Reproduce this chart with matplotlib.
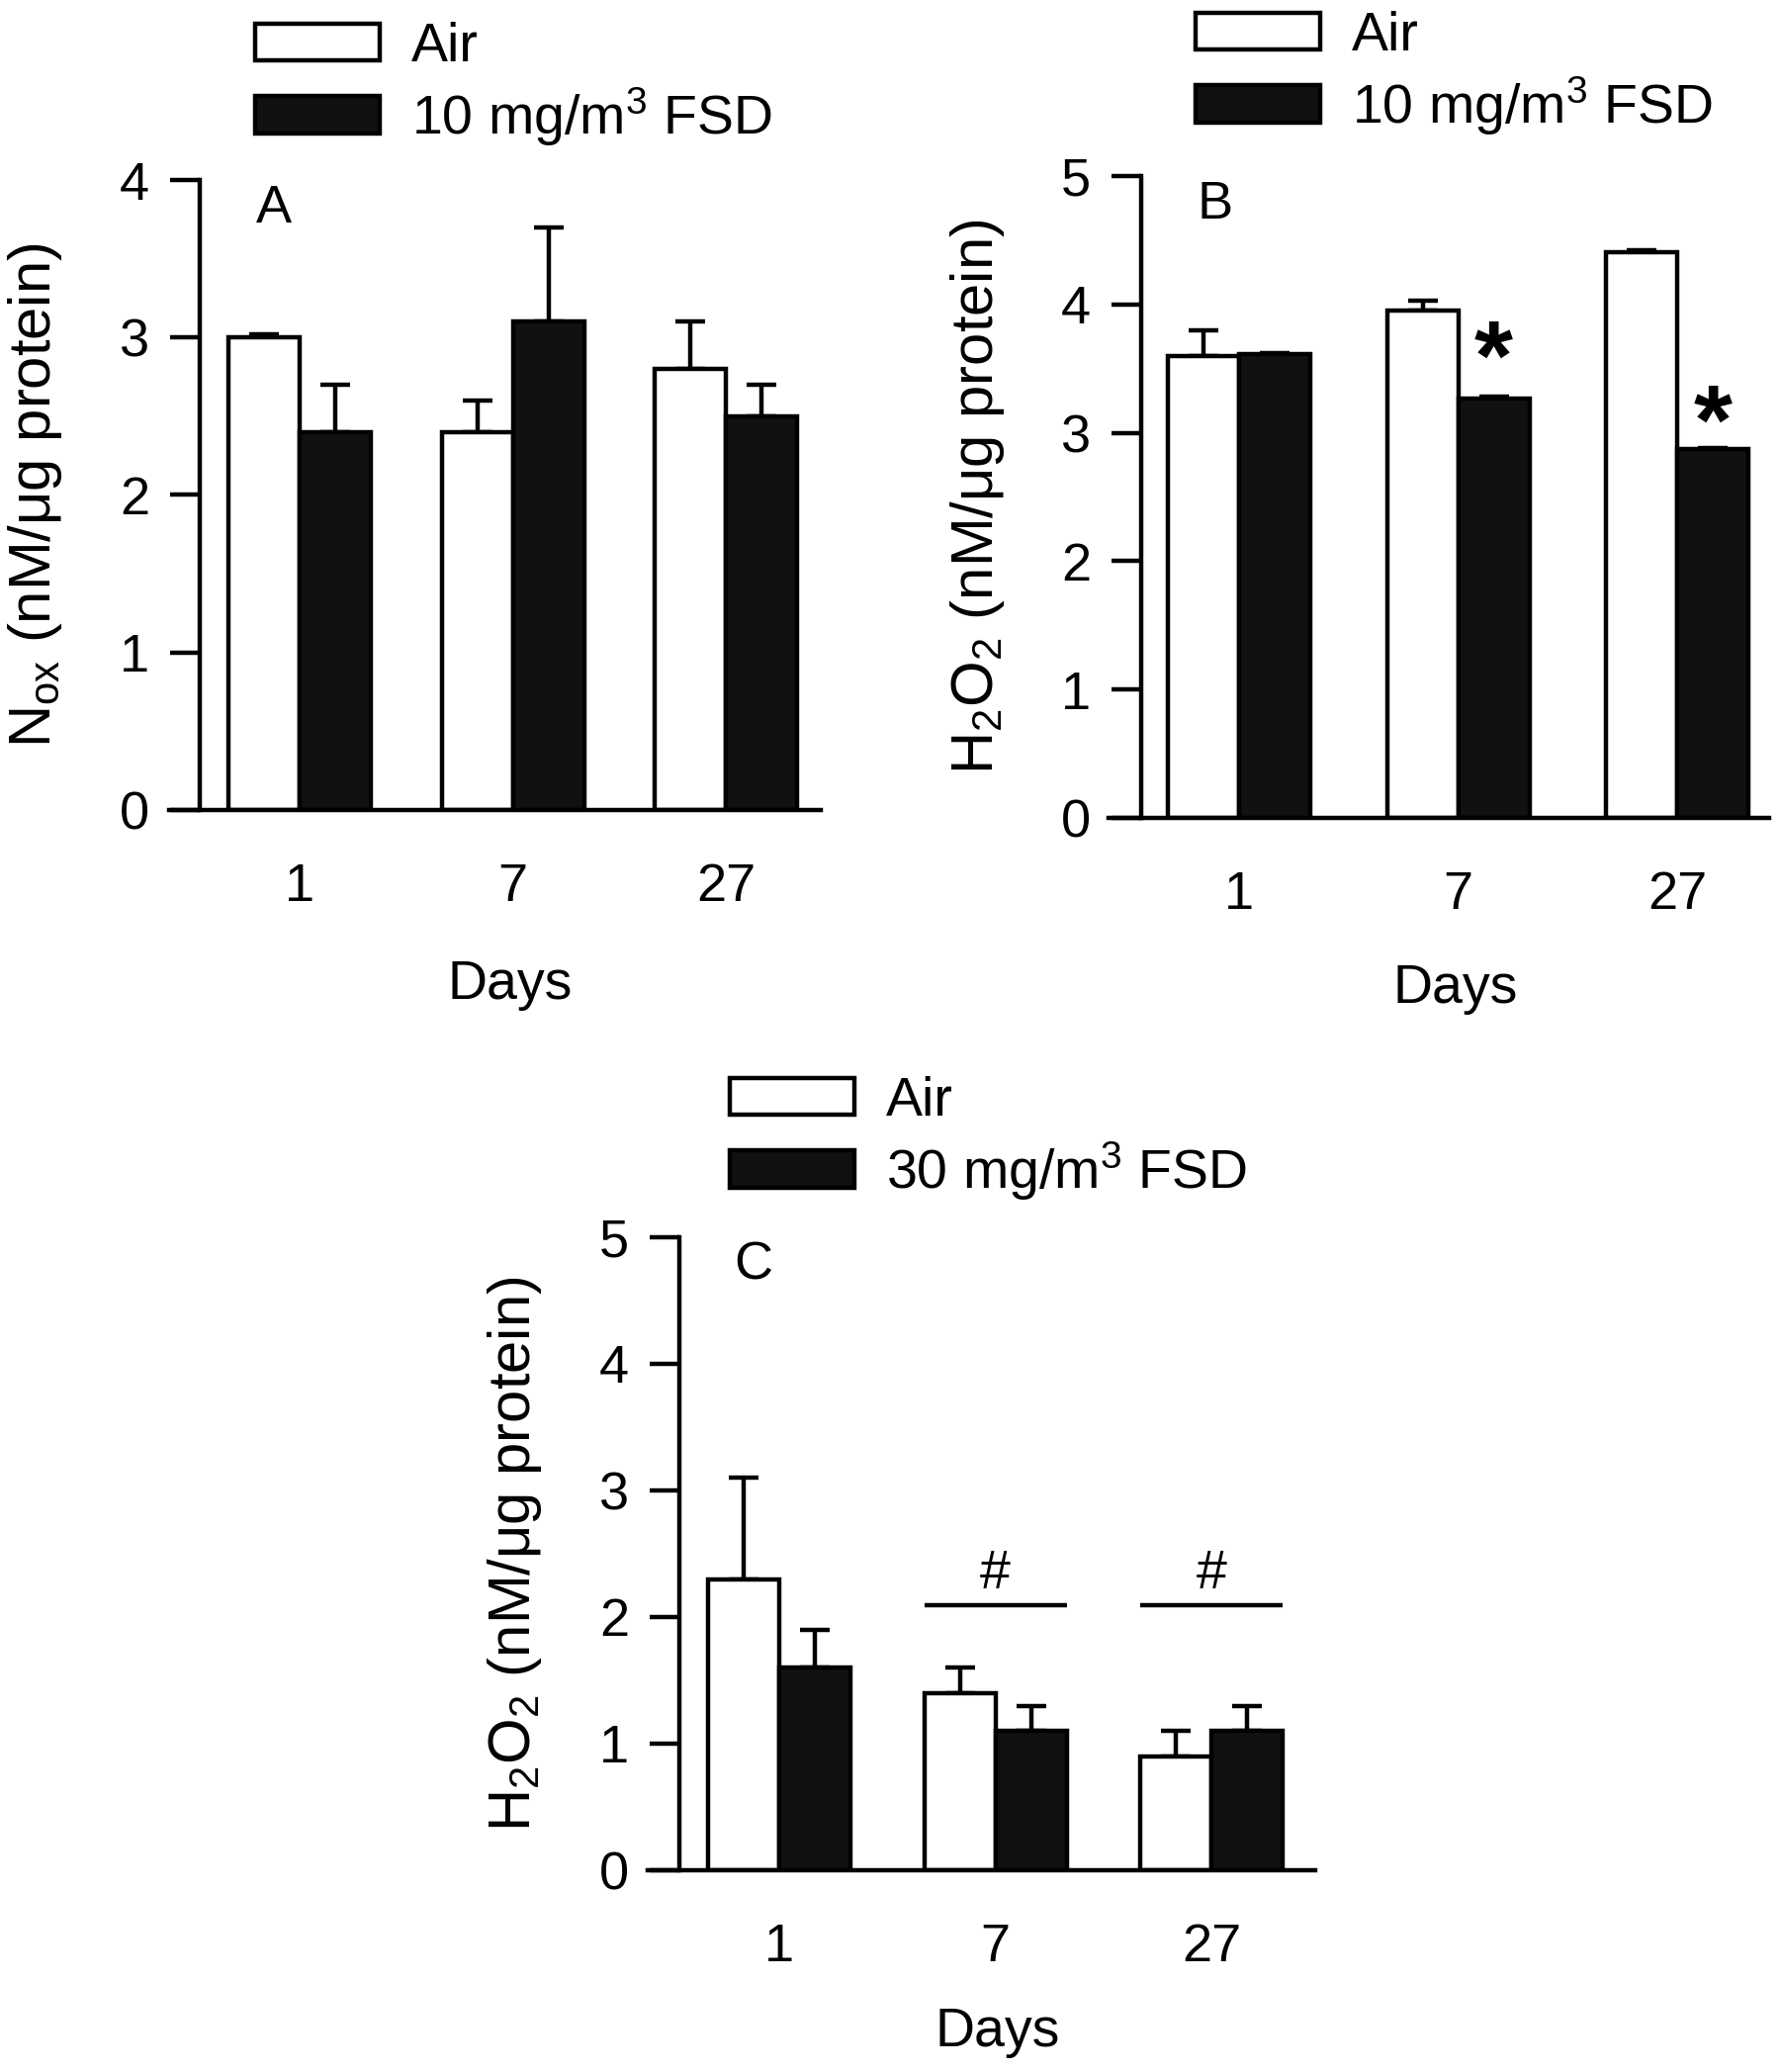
import numpy as np
import matplotlib
matplotlib.use("Agg")
import matplotlib.pyplot as plt

plt.rcParams["font.family"] = ["Liberation Sans", "DejaVu Sans"]
plt.rcParams["mathtext.fontset"] = "custom"
plt.rcParams["mathtext.rm"] = "Liberation Sans"
plt.rcParams["mathtext.it"] = "Liberation Sans:italic"
plt.rcParams["mathtext.bf"] = "Liberation Sans:bold"
plt.rcParams["mathtext.default"] = "rm"

# Data
days = ["1", "7", "27"]

a_air = [3.0, 2.4, 2.8]
a_air_err = [0.02, 0.2, 0.3]
a_fsd = [2.4, 3.1, 2.5]
a_fsd_err = [0.3, 0.6, 0.2]

b_air = [3.6, 3.95, 4.41]
b_air_err = [0.2, 0.08, 0.01]
b_fsd = [3.61, 3.27, 2.87]
b_fsd_err = [0.01, 0.01, 0.01]
b_star_y = [3.62, 3.12]      # asterisk positions over FSD bars of days 7 and 27

c_air = [2.3, 1.4, 0.9]
c_air_err = [0.8, 0.2, 0.2]
c_fsd = [1.6, 1.1, 1.1]
c_fsd_err = [0.3, 0.2, 0.2]
c_hash_line = 2.09           # bracket height for days 7 and 27
c_hash_y = 2.38

W, H = 1800, 2095
fig = plt.figure(figsize=(W / 100, H / 100), dpi=100)

LW = 3.2
FS_TICK = 39
FS_LAB = 40
FS_YLAB = 43
FS_LEG = 40


def panel(px, ylim_top, air, air_err, fsd, fsd_err, ylabel, letter, fsd_label, leg):
    # px: left, right, yaxis, bottom, top, first group centre, group spacing (pixels)
    left, right, yax, bot, top, c0, sp = px
    ax = fig.add_axes([left / W, 1 - bot / H, (right - left) / W, (bot - top) / H])
    w = 72 / sp
    x = np.arange(len(days))
    zeros = np.zeros(len(days))
    ax.errorbar(x - w / 2, air, yerr=[zeros, air_err], fmt="none", ecolor="black",
                elinewidth=LW, capsize=11, capthick=LW, zorder=1)
    ax.errorbar(x + w / 2, fsd, yerr=[zeros, fsd_err], fmt="none", ecolor="black",
                elinewidth=LW, capsize=11, capthick=LW, zorder=1)
    b1 = ax.bar(x - w / 2, air, w, color="white", edgecolor="black", linewidth=LW, zorder=2)
    b2 = ax.bar(x + w / 2, fsd, w, color="#111111", edgecolor="black", linewidth=LW, zorder=2)
    ax.set_xlim((left - c0) / sp, (right - c0) / sp)
    ax.set_ylim(0, ylim_top)
    ax.spines["top"].set_visible(False)
    ax.spines["right"].set_visible(False)
    ax.spines["left"].set_position(("data", (yax - c0) / sp))
    for s in ("left", "bottom"):
        ax.spines[s].set_linewidth(LW)
    ax.set_yticks(range(ylim_top + 1))
    ax.set_xticks(x)
    ax.set_xticklabels(days)
    ax.tick_params(axis="y", length=21.6, width=LW, pad=15, labelsize=FS_TICK)
    ax.tick_params(axis="x", length=0, pad=38, labelsize=FS_TICK)
    ax.set_xlabel("Days", fontsize=FS_LAB, va="center")
    ax.xaxis.set_label_coords((yax + right) / 2 / W, 1 - leg[3] / H, transform=fig.transFigure)
    ax.set_ylabel(ylabel, fontsize=FS_YLAB, va="center")
    ax.yaxis.set_label_coords(leg[2] / W, 1 - (bot + top) / 2 / H, transform=fig.transFigure)
    ax.text((yax + 75 - c0) / sp, ylim_top * 0.955, letter, fontsize=FS_TICK,
            ha="center", va="center")
    ax.legend([b1, b2], ["Air", fsd_label], loc="upper left",
              bbox_to_anchor=(leg[0] / W, 1 - leg[1] / H), bbox_transform=fig.transFigure,
              frameon=False, fontsize=FS_LEG, handlelength=2.27, handleheight=0.67,
              handletextpad=0.58, labelspacing=0.22, borderpad=0, borderaxespad=0)
    return ax, w


axA, wA = panel((171, 830, 202, 819, 182, 303, 215.5), 4, a_air, a_air_err, a_fsd, a_fsd_err,
                r"N$_{\mathrm{ox}}$ (nM/μg protein)", "A", r"10 mg/m$^{3}$ FSD",
                (258, 22, 36, 996))

axB, wB = panel((1121, 1789, 1154, 827, 178, 1253, 221.5), 5, b_air, b_air_err, b_fsd, b_fsd_err,
                r"H$_{2}$O$_{2}$ (nM/μg protein)", "B", r"10 mg/m$^{3}$ FSD",
                (1209, 11, 989, 1000))
for i, yv in zip([1, 2], b_star_y):
    axB.text(i + wB / 2, yv, "*", fontsize=72, fontweight="bold", ha="center", va="center_baseline")

axC, wC = panel((655, 1330, 687, 1891, 1251, 788, 218.5), 5, c_air, c_air_err, c_fsd, c_fsd_err,
                r"H$_{2}$O$_{2}$ (nM/μg protein)", "C", r"30 mg/m$^{3}$ FSD",
                (738, 1088, 521, 2055))
for i in [1, 2]:
    axC.plot([i - wC, i + wC], [c_hash_line, c_hash_line], color="black", lw=LW,
             solid_capstyle="butt")
    axC.text(i, c_hash_y, "#", fontsize=40, ha="center", va="center_baseline")

fig.savefig("out.png", dpi=100)
